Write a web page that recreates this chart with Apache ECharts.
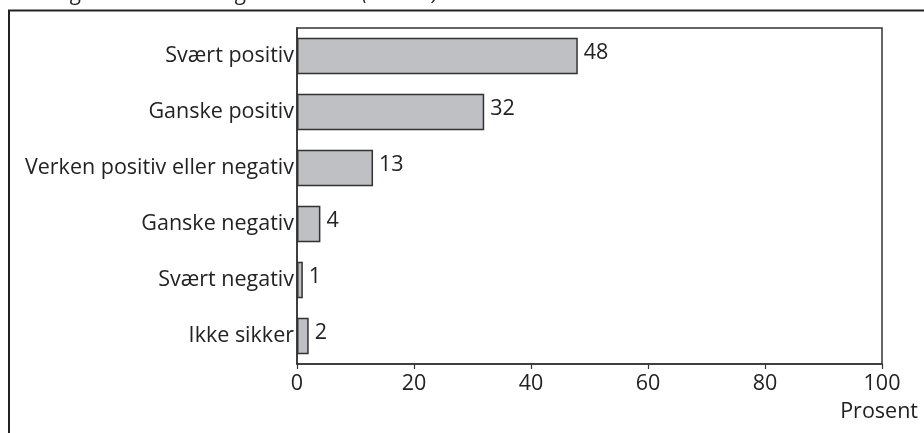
<!DOCTYPE html>
<html>
<head>
<meta charset="utf-8">
<script src="https://cdn.jsdelivr.net/npm/echarts@6/dist/echarts.min.js"></script>
<style>
  html, body { margin: 0; padding: 0; background: #fff; }
  #chart { width: 924px; height: 433px; }
</style>
</head>
<body>
<div id="chart"></div>
<script>
// Answer categories, top to bottom
const categories = [
  'Svært positiv',
  'Ganske positiv',
  'Verken positiv eller negativ',
  'Ganske negativ',
  'Svært negativ',
  'Ikke sikker'
];
// Share of respondents (percent)
const values = [48, 32, 13, 4, 1, 2];
// Value axis ticks
const xTicks = [0, 20, 40, 60, 80, 100];

const FONT = '"Open Sans", "Noto Sans", sans-serif';
const INK = '#222';
const FS = 21.5;

const chart = echarts.init(document.getElementById('chart'), null, { renderer: 'canvas' });

chart.setOption({
  animation: false,
  backgroundColor: '#fff',
  textStyle: { fontFamily: FONT },
  graphic: [
    // caption line, clipped at the top edge
    {
      type: 'text',
      left: 1,
      top: -17,
      style: {
        text: 'etter- og videreutdanningen. Prosent (N=186)',
        font: 'italic 22px ' + FONT,
        fill: INK
      }
    },
    // outer frame: top and left rules
    {
      type: 'line',
      shape: { x1: 8, y1: 10.5, x2: 924, y2: 10.5 },
      style: { stroke: INK, lineWidth: 2 }
    },
    {
      type: 'line',
      shape: { x1: 9, y1: 10, x2: 9, y2: 433 },
      style: { stroke: INK, lineWidth: 2 }
    }
  ],
  grid: {
    left: 297,
    right: 42,
    top: 28,
    bottom: 69,
    show: true,
    borderColor: '#333',
    borderWidth: 1.5,
    containLabel: false
  },
  xAxis: {
    type: 'value',
    min: 0,
    max: 100,
    interval: 20,
    name: 'Prosent',
    nameLocation: 'end',
    nameGap: 0,
    nameTextStyle: {
      fontFamily: FONT, fontSize: FS, color: INK,
      align: 'right', verticalAlign: 'top',
      padding: [37, -36, 0, 0]
    },
    axisLine: { show: true, lineStyle: { color: '#333', width: 1.5 } },
    axisTick: { show: true, length: 5, lineStyle: { color: '#333', width: 1.2 } },
    splitLine: { show: false },
    axisLabel: {
      fontFamily: FONT, fontSize: FS, color: INK, margin: 9,
      formatter: v => xTicks.includes(v) ? String(v) : ''
    }
  },
  yAxis: {
    type: 'category',
    data: categories,
    inverse: true,
    axisLine: { show: true, lineStyle: { color: '#333', width: 1.5 } },
    axisTick: { show: false },
    splitLine: { show: false },
    axisLabel: { fontFamily: FONT, fontSize: FS, color: INK, margin: 3 }
  },
  series: [{
    type: 'bar',
    data: values,
    barCategoryGap: '35%',
    itemStyle: { color: '#bfc0c4', borderColor: '#333', borderWidth: 1.5 },
    label: {
      show: true,
      position: 'right',
      distance: 6,
      fontFamily: FONT,
      fontSize: FS,
      color: INK,
      offset: [0, -3]
    }
  }]
});
</script>
</body>
</html>
